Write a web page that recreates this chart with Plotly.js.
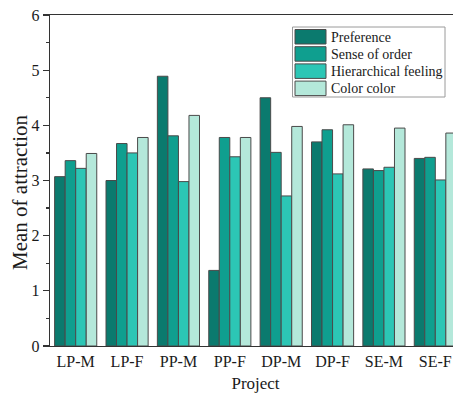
<!DOCTYPE html>
<html>
<head>
<meta charset="utf-8">
<script src="https://cdn.plot.ly/plotly-3.0.1.min.js"></script>
<style>
html,body{margin:0;padding:0;overflow:hidden;background:#fff;width:453px;height:394px;}
#chart{width:470px;height:394px;}
</style>
</head>
<body>
<div id="chart"></div>
<script>
const categories = ['LP-M','LP-F','PP-M','PP-F','DP-M','DP-F','SE-M','SE-F'];
const preference = [3.07,3.00,4.89,1.37,4.50,3.70,3.21,3.40];
const senseOfOrder = [3.36,3.67,3.81,3.78,3.51,3.92,3.18,3.42];
const hierarchicalFeeling = [3.22,3.50,2.98,3.43,2.72,3.12,3.24,3.01];
const colorColor = [3.49,3.78,4.18,3.78,3.98,4.01,3.95,3.86];
const seriesNames = ['Preference','Sense of order','Hierarchical feeling','Color color'];
const seriesValues = [preference, senseOfOrder, hierarchicalFeeling, colorColor];
const seriesColors = ['#0b7a6e','#0f9f8f','#2cc6b5','#b4e8da'];

const FONT = 'Liberation Serif, Times New Roman, serif';
const W = 470, H = 394;
const M = {l:50, r:9, t:15, b:48};
const PW = W - M.l - M.r, PH = H - M.t - M.b;
const px2x = p => (p - M.l) / PW;
const px2y = p => (H - M.b - p) / PH;

const traces = seriesNames.map((name, i) => ({
  type: 'bar',
  name: name,
  x: categories,
  y: seriesValues[i],
  marker: {color: seriesColors[i], line: {color: '#4a4a4a', width: 1}},
  showlegend: false,
  hoverinfo: 'none'
}));

// custom legend (box + swatches + labels)
const shapes = [{
  type: 'rect', xref: 'paper', yref: 'paper',
  x0: px2x(292.5), x1: px2x(445), y0: px2y(97), y1: px2y(27),
  line: {color: '#9a9a9a', width: 1}, fillcolor: 'rgba(255,255,255,0)'
}];
const annotations = [];
seriesNames.forEach((name, i) => {
  const top = 29.5 + i * 17.2;
  shapes.push({
    type: 'rect', xref: 'paper', yref: 'paper',
    x0: px2x(295), x1: px2x(326), y0: px2y(top + 14.5), y1: px2y(top),
    line: {color: '#4a4a4a', width: 1}, fillcolor: seriesColors[i]
  });
  annotations.push({
    xref: 'paper', yref: 'paper', x: px2x(329), y: px2y(top + 7.5),
    xanchor: 'left', yanchor: 'middle', showarrow: false,
    text: name, font: {family: FONT, size: 14, color: '#1a1a1a'}
  });
});
annotations.push({
  xref: 'paper', yref: 'paper', x: px2x(20), y: px2y(192),
  xanchor: 'center', yanchor: 'middle', showarrow: false, textangle: -90,
  text: 'Mean of attraction', font: {family: FONT, size: 21, color: '#1a1a1a'}
});

const layout = {
  width: W, height: H,
  margin: M,
  paper_bgcolor: '#fff', plot_bgcolor: '#fff',
  barmode: 'group', bargap: 0.18, bargroupgap: 0,
  font: {family: FONT, color: '#1a1a1a'},
  xaxis: {
    type: 'category', range: [-0.5, 7.5],
    showline: true, linecolor: '#333', linewidth: 1.3, mirror: true,
    ticks: '', showgrid: false, zeroline: false,
    tickfont: {family: FONT, size: 16, color: '#1a1a1a'},
    ticklabelstandoff: 0,
    title: {text: 'Project', font: {family: FONT, size: 17, color: '#1a1a1a'}, standoff: 8}
  },
  yaxis: {
    range: [0, 6], tickvals: [0,1,2,3,4,5,6],
    showline: true, linecolor: '#333', linewidth: 1.3, mirror: false,
    ticks: 'outside', ticklen: 6, tickwidth: 1.3, tickcolor: '#333',
    minor: {dtick: 0.5, ticks: 'outside', ticklen: 3, tickwidth: 1.3, tickcolor: '#333'},
    showgrid: false, zeroline: false,
    tickfont: {family: FONT, size: 16, color: '#1a1a1a'}
  },
  shapes: shapes,
  annotations: annotations
};

Plotly.newPlot('chart', traces, layout, {displayModeBar: false, staticPlot: true});
</script>
</body>
</html>
